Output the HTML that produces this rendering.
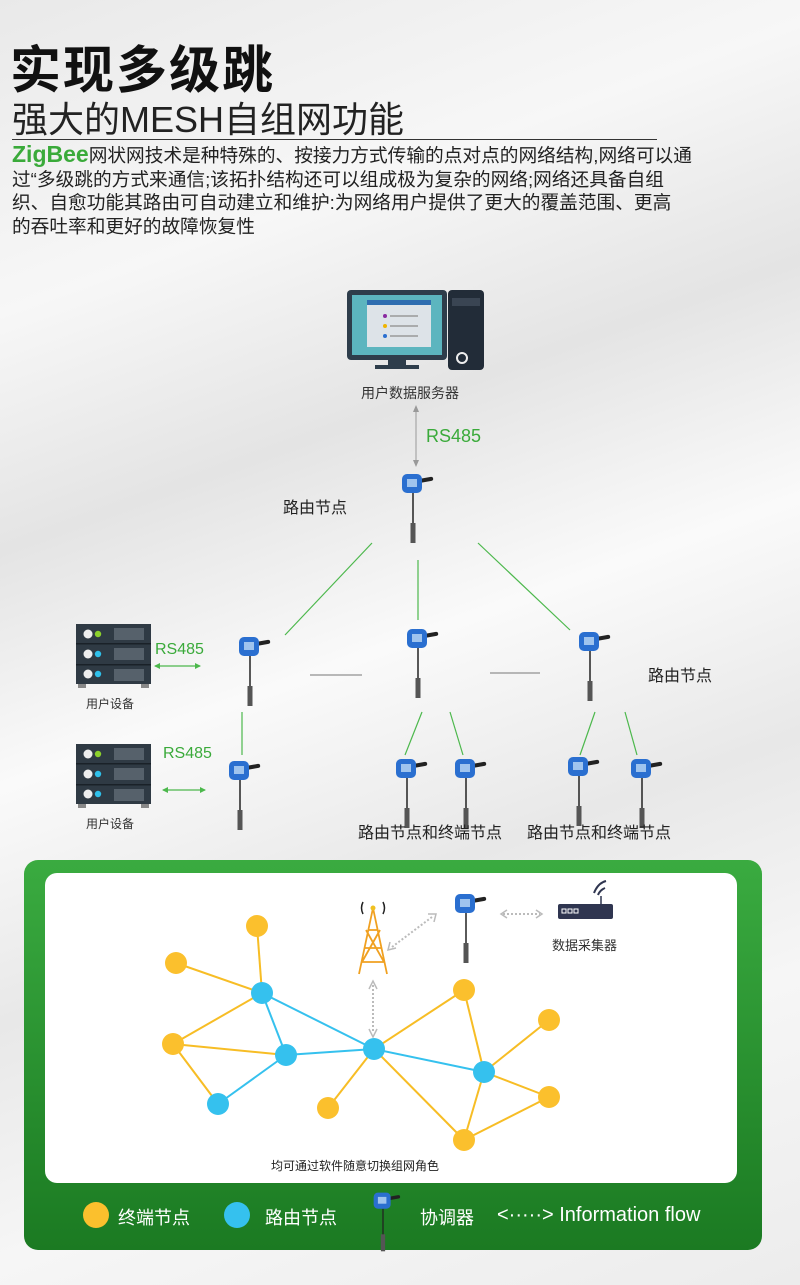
<!DOCTYPE html>
<html><head><meta charset="utf-8">
<style>
*{margin:0;padding:0;box-sizing:border-box}
body{width:800px;height:1285px;overflow:hidden;position:relative;font-family:"Liberation Sans","Noto Sans CJK SC",sans-serif;
background:linear-gradient(160deg,#e9e9e9 0%,#f7f7f7 20%,#e4e4e4 35%,#fafafa 50%,#e8e8e8 65%,#f6f6f6 80%,#ececec 100%);}
.t{position:absolute;white-space:nowrap;color:#222}
svg{position:absolute;left:0;top:0}
</style></head><body>
<div class="t" style="left:10px;top:29px;font-size:51px;font-weight:bold;color:#111;letter-spacing:2px">实现多级跳</div>
<div class="t" style="left:12px;top:91px;font-size:36px;color:#222">强大的MESH自组网功能</div>
<div style="position:absolute;left:12px;top:139px;width:645px;height:1px;background:#333"></div>
<div class="t" style="left:12px;top:143px;font-size:18.7px;line-height:23.5px;color:#222;white-space:normal;width:780px"><span style="color:#3aaa3a;font-weight:bold;font-size:23px">ZigBee</span>网状网技术是种特殊的、按接力方式传输的点对点的网络结构,网络可以通<br>过“多级跳的方式来通信;该拓扑结构还可以组成极为复杂的网络;网络还具备自组<br>织、自愈功能其路由可自动建立和维护:为网络用户提供了更大的覆盖范围、更高<br>的吞吐率和更好的故障恢复性</div>

<svg width="800" height="1285" viewBox="0 0 800 1285">
<defs>
<g id="dev">
<line x1="0" y1="8" x2="0" y2="40" stroke="#222" stroke-width="1.5"/>
<rect x="-2.5" y="38" width="5" height="20" fill="#555"/>
<rect x="6" y="-6" width="14" height="4" rx="2" fill="#222" transform="rotate(-10 6 -6)"/>
<rect x="-11" y="-11" width="20" height="19" rx="5" fill="#2a6fd0"/>
<rect x="-6" y="-6" width="10" height="8" fill="#9fc4ee"/>
</g>
<g id="srv">
<rect x="0" y="0" width="75" height="60" fill="#2f3a44"/>
<rect x="0" y="19" width="75" height="1.5" fill="#1a2128"/><rect x="0" y="40" width="75" height="1.5" fill="#1a2128"/>
<circle cx="12" cy="10" r="4.5" fill="#eee"/><circle cx="22" cy="10" r="3.2" fill="#8cd12c"/>
<circle cx="12" cy="30" r="4.5" fill="#eee"/><circle cx="22" cy="30" r="3.2" fill="#2fc0ea"/>
<circle cx="12" cy="50" r="4.5" fill="#eee"/><circle cx="22" cy="50" r="3.2" fill="#2fc0ea"/>
<g fill="#56616b"><rect x="38" y="4" width="30" height="12"/><rect x="38" y="24" width="30" height="12"/><rect x="38" y="45" width="30" height="12"/></g>
<rect x="2" y="60" width="8" height="4" fill="#888"/><rect x="65" y="60" width="8" height="4" fill="#888"/>
</g>
<linearGradient id="pg" x1="0" y1="0" x2="0" y2="1"><stop offset="0" stop-color="#3aab40"/><stop offset="1" stop-color="#1b7a22"/></linearGradient>
</defs>
<rect x="448" y="290" width="36" height="80" rx="4" fill="#222c38"/>
<rect x="452" y="298" width="28" height="8" fill="#3a4553"/>
<circle cx="462" cy="358" r="5" fill="none" stroke="#eee" stroke-width="2"/>
<rect x="347" y="290" width="100" height="70" rx="4" fill="#2e3d4b"/>
<rect x="352" y="295" width="90" height="60" fill="#5cb5bf"/>
<rect x="367" y="300" width="64" height="47" fill="#dde3e8"/>
<rect x="367" y="300" width="64" height="5" fill="#2e6db0"/>
<circle cx="385" cy="316" r="2" fill="#8a2aa0"/><circle cx="385" cy="326" r="2" fill="#f0b400"/><circle cx="385" cy="336" r="2" fill="#2a6fd0"/>
<g stroke="#999" stroke-width="1.5"><line x1="390" y1="316" x2="418" y2="316"/><line x1="390" y1="326" x2="418" y2="326"/><line x1="390" y1="336" x2="418" y2="336"/></g>
<rect x="388" y="360" width="18" height="6" fill="#2e3d4b"/><rect x="375" y="365" width="44" height="4" fill="#2e3d4b"/>
<line x1="416" y1="408" x2="416" y2="463" stroke="#999" stroke-width="1"/>
<path d="M413 412 L416 405 L419 412Z M413 460 L416 467 L419 460Z" fill="#999"/>
<g stroke="#4cb84c" stroke-width="1.2">
<line x1="372" y1="543" x2="285" y2="635"/><line x1="418" y1="560" x2="418" y2="620"/><line x1="478" y1="543" x2="570" y2="630"/>
<line x1="242" y1="712" x2="242" y2="755"/><line x1="422" y1="712" x2="405" y2="755"/><line x1="450" y1="712" x2="463" y2="755"/>
<line x1="595" y1="712" x2="580" y2="755"/><line x1="625" y1="712" x2="637" y2="755"/>
<line x1="155" y1="666" x2="200" y2="666"/><line x1="163" y1="790" x2="205" y2="790"/>
</g>
<path d="M160 663 L154 666 L160 669Z M195 663 L201 666 L195 669Z M168 787 L162 790 L168 793Z M200 787 L206 790 L200 793Z" fill="#4cb84c"/>
<g stroke="#777" stroke-width="1"><line x1="310" y1="675" x2="362" y2="675"/><line x1="490" y1="673" x2="540" y2="673"/></g>
<use href="#dev" x="413" y="485"/><use href="#dev" x="250" y="648"/><use href="#dev" x="418" y="640"/><use href="#dev" x="590" y="643"/>
<use href="#dev" x="240" y="772"/><use href="#dev" x="407" y="770"/><use href="#dev" x="466" y="770"/><use href="#dev" x="579" y="768"/><use href="#dev" x="642" y="770"/>
<use href="#srv" x="76" y="624"/><use href="#srv" x="76" y="744"/>
<rect x="24" y="860" width="738" height="390" rx="14" fill="url(#pg)"/>
<rect x="45" y="873" width="692" height="310" rx="12" fill="#fff"/>
<g stroke="#f7bd25" stroke-width="2">
<line x1="257" y1="926" x2="262" y2="993"/><line x1="176" y1="963" x2="262" y2="993"/><line x1="173" y1="1044" x2="262" y2="993"/>
<line x1="173" y1="1044" x2="286" y2="1055"/><line x1="173" y1="1044" x2="218" y2="1104"/>
<line x1="464" y1="990" x2="374" y2="1049"/><line x1="464" y1="990" x2="484" y2="1072"/><line x1="549" y1="1020" x2="484" y2="1072"/>
<line x1="484" y1="1072" x2="464" y2="1140"/><line x1="549" y1="1097" x2="464" y2="1140"/><line x1="374" y1="1049" x2="464" y2="1140"/>
<line x1="328" y1="1108" x2="374" y2="1049"/><line x1="549" y1="1097" x2="484" y2="1072"/>
</g>
<g stroke="#35c1ee" stroke-width="2">
<line x1="262" y1="993" x2="286" y2="1055"/><line x1="286" y1="1055" x2="218" y2="1104"/><line x1="262" y1="993" x2="374" y2="1049"/>
<line x1="286" y1="1055" x2="374" y2="1049"/><line x1="374" y1="1049" x2="484" y2="1072"/>
</g>
<g fill="#fbc02d"><circle cx="257" cy="926" r="11"/><circle cx="176" cy="963" r="11"/><circle cx="173" cy="1044" r="11"/><circle cx="328" cy="1108" r="11"/>
<circle cx="464" cy="990" r="11"/><circle cx="549" cy="1020" r="11"/><circle cx="549" cy="1097" r="11"/><circle cx="464" cy="1140" r="11"/></g>
<g fill="#35c1ee"><circle cx="262" cy="993" r="11"/><circle cx="286" cy="1055" r="11"/><circle cx="218" cy="1104" r="11"/><circle cx="374" cy="1049" r="11"/><circle cx="484" cy="1072" r="11"/></g>
<g stroke="#f0a020" stroke-width="1.8" fill="none">
<path d="M373 908 L359 974 M373 908 L387 974 M365 948 L381 948 M368 930 L378 930 M362 962 L384 962 M366 930 L384 962 M380 930 L362 962"/>
</g>
<circle cx="373" cy="908" r="2.5" fill="#f0c020"/>
<path d="M363 902 q-3 6 0 12 M383 902 q3 6 0 12" stroke="#222" stroke-width="1.5" fill="none"/>
<g stroke="#bbb" stroke-width="2" stroke-dasharray="2,2">
<line x1="392" y1="947" x2="432" y2="917"/><line x1="373" y1="985" x2="373" y2="1033"/><line x1="503" y1="914" x2="540" y2="914"/>
</g>
<path d="M390 942 L388 950 L396 948 M428 914 L436 914 L434 922 M369 989 L373 981 L377 989 M369 1029 L373 1037 L377 1029 M507 910 L501 914 L507 918 M536 910 L542 914 L536 918" stroke="#bbb" stroke-width="1.5" fill="none"/>
<use href="#dev" x="466" y="905"/>
<rect x="558" y="904" width="55" height="15" rx="2" fill="#2f3550"/>
<g fill="none" stroke="#fff" stroke-width="1"><rect x="562" y="909" width="4" height="4"/><rect x="568" y="909" width="4" height="4"/><rect x="574" y="909" width="4" height="4"/></g>
<line x1="601" y1="896" x2="601" y2="904" stroke="#2f3550" stroke-width="1.5"/>
<path d="M594 893 q4 -10 12 -12 M598 895 q2 -5 7 -7" stroke="#2f3550" stroke-width="2" fill="none"/>
<circle cx="96" cy="1215" r="13" fill="#fbc02d"/><circle cx="237" cy="1215" r="13" fill="#35c1ee"/>
<g transform="translate(383 1202) scale(0.85)"><use href="#dev"/></g>
</svg>

<div class="t" style="left:361px;top:383px;font-size:14px;color:#333">用户数据服务器</div>
<div class="t" style="left:426px;top:426px;font-size:18px;color:#3aaa3a">RS485</div>
<div class="t" style="left:283px;top:494px;font-size:16px">路由节点</div>
<div class="t" style="left:155px;top:641px;font-size:16px;color:#3aaa3a">RS485</div>
<div class="t" style="left:163px;top:745px;font-size:16px;color:#3aaa3a">RS485</div>
<div class="t" style="left:86px;top:695px;font-size:12px;color:#333">用户设备</div>
<div class="t" style="left:86px;top:815px;font-size:12px;color:#333">用户设备</div>
<div class="t" style="left:648px;top:662px;font-size:16px">路由节点</div>
<div class="t" style="left:358px;top:819px;font-size:16px">路由节点和终端节点</div>
<div class="t" style="left:527px;top:819px;font-size:16px">路由节点和终端节点</div>
<div class="t" style="left:552px;top:935px;font-size:13px;color:#333">数据采集器</div>
<div class="t" style="left:271px;top:1157px;font-size:12px;color:#222">均可通过软件随意切换组网角色</div>
<div class="t" style="left:118px;top:1204px;font-size:18px;color:#fff">终端节点</div>
<div class="t" style="left:265px;top:1204px;font-size:18px;color:#fff">路由节点</div>
<div class="t" style="left:420px;top:1204px;font-size:18px;color:#fff">协调器</div>
<div class="t" style="left:497px;top:1204px;font-size:20px;color:#fff">&lt;·····&gt; Information flow</div>
</body></html>
